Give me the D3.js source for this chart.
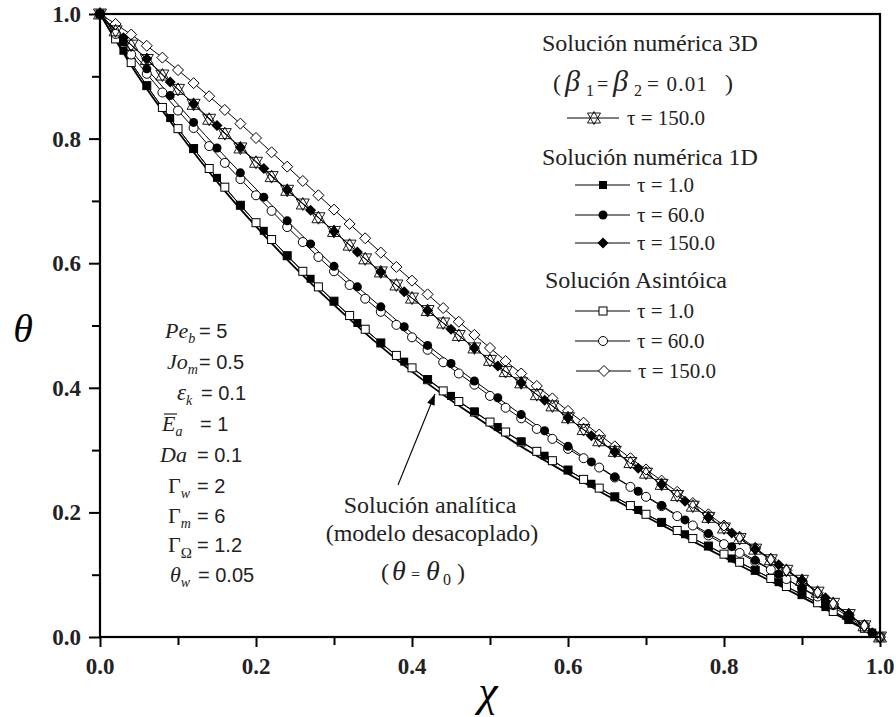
<!DOCTYPE html>
<html><head><meta charset="utf-8">
<script src="https://cdn.jsdelivr.net/npm/d3@7"></script>
<style>body{margin:0;background:#fff} svg{display:block}</style>
</head><body><svg id="c" width="896" height="717"></svg>
<script>
// ---- data ----
const chi02 = [0.00,0.02,0.04,0.06,0.08,0.10,0.12,0.14,0.16,0.18,0.20,0.22,0.24,0.26,0.28,0.30,0.32,0.34,0.36,0.38,0.40,0.42,0.44,0.46,0.48,0.50,0.52,0.54,0.56,0.58,0.60,0.62,0.64,0.66,0.68,0.70,0.72,0.74,0.76,0.78,0.80,0.82,0.84,0.86,0.88,0.90,0.92,0.94,0.96,0.98,1.00];
const chi03 = [0.00,0.03,0.06,0.09,0.12,0.15,0.18,0.21,0.24,0.27,0.30,0.33,0.36,0.39,0.42,0.45,0.48,0.51,0.54,0.57,0.60,0.63,0.66,0.69,0.72,0.75,0.78,0.81,0.84,0.87,0.90,0.93,0.96,0.99];
const chi05 = [0.00,0.05,0.10,0.15,0.20,0.25,0.30,0.35,0.40,0.45,0.50,0.55,0.60,0.65,0.70,0.75,0.80,0.85,0.90,0.95,1.00];

const analytic = [1.000,.898,.811,.731,.659,.593,.533,.477,.426,.380,.338,.298,.262,.227,.193,.160,.128,.096,.064,.032,.000];

const num3D_150 = [1.000,.973,.950,.927,.902,.879,.855,.831,.808,.785,.762,.739,.717,.695,.673,.651,.629,.607,.586,.565,.544,.524,.504,.484,.464,.444,.426,.408,.389,.371,.352,.333,.315,.298,.280,.263,.245,.227,.210,.192,.175,.158,.141,.124,.107,.091,.072,.054,.036,.018,.000];

const num1D_1   = [1.000,.941,.885,.833,.784,.737,.693,.652,.612,.575,.539,.504,.472,.442,.414,.387,.362,.337,.314,.291,.268,.246,.225,.204,.184,.165,.146,.126,.107,.088,.068,.048,.028,.007];
const num1D_60  = [1.000,.955,.912,.869,.826,.785,.745,.706,.668,.631,.595,.562,.530,.498,.468,.439,.411,.384,.357,.331,.306,.281,.257,.234,.211,.188,.166,.145,.123,.101,.078,.056,.032,.007];
const num1D_150 = [1.000,.962,.928,.891,.856,.821,.786,.752,.718,.685,.651,.618,.586,.554,.524,.494,.464,.435,.408,.380,.352,.323,.297,.271,.245,.218,.192,.167,.141,.116,.091,.063,.036,.007];

const asym_1   = [1.000,.960,.922,.885,.850,.816,.784,.752,.722,.693,.665,.638,.612,.587,.562,.539,.516,.494,.472,.452,.432,.413,.395,.378,.361,.345,.329,.313,.298,.283,.268,.253,.239,.225,.211,.197,.184,.171,.158,.146,.133,.120,.107,.094,.081,.068,.055,.041,.028,.014,.000];
const asym_60  = [1.000,.968,.935,.904,.874,.845,.817,.788,.761,.735,.709,.684,.658,.634,.610,.587,.565,.543,.522,.501,.481,.461,.441,.423,.405,.387,.368,.351,.334,.318,.302,.287,.272,.256,.241,.225,.210,.194,.179,.163,.149,.135,.121,.108,.093,.079,.065,.051,.035,.019,.000];
const asym_150 = [1.000,.984,.967,.949,.930,.910,.889,.868,.846,.824,.801,.778,.755,.732,.709,.686,.663,.640,.617,.594,.572,.550,.528,.506,.485,.464,.443,.423,.403,.383,.363,.344,.325,.306,.287,.269,.251,.233,.215,.197,.179,.161,.143,.125,.107,.089,.071,.053,.035,.018,.000];

const xTicks = [0,0.2,0.4,0.6,0.8,1.0];
const yTicks = [0,0.2,0.4,0.6,0.8,1.0];
const minorTicks = [0,0.1,0.2,0.3,0.4,0.5,0.6,0.7,0.8,0.9,1.0];
const legendLabels = ["τ = 150.0","τ = 1.0","τ = 60.0","τ = 150.0","τ = 1.0","τ = 60.0","τ = 150.0"];

// ---- setup ----
const svg = d3.select("#c");
const L = 100, R = 880, T = 14, B = 637;
const x = d3.scaleLinear().domain([0,1]).range([L,R]);
const y = d3.scaleLinear().domain([0,1]).range([B,T]);
const SERIF = "Liberation Serif";
const SANS = "Liberation Sans";

function marker(g, type, cx, cy) {
  if (type === "fsq") g.append("rect").attr("x",cx-4).attr("y",cy-4).attr("width",8).attr("height",8).attr("fill","#000");
  else if (type === "osq") g.append("rect").attr("x",cx-4).attr("y",cy-4).attr("width",8).attr("height",8).attr("fill","#fff").attr("stroke","#000").attr("stroke-width",1);
  else if (type === "fci") g.append("circle").attr("cx",cx).attr("cy",cy).attr("r",4.5).attr("fill","#000");
  else if (type === "oci") g.append("circle").attr("cx",cx).attr("cy",cy).attr("r",4.5).attr("fill","#fff").attr("stroke","#000").attr("stroke-width",1);
  else if (type === "fdi") g.append("path").attr("d",`M${cx},${cy-5.5}L${cx+5.5},${cy}L${cx},${cy+5.5}L${cx-5.5},${cy}Z`).attr("fill","#000");
  else if (type === "odi") g.append("path").attr("d",`M${cx},${cy-5.5}L${cx+5.5},${cy}L${cx},${cy+5.5}L${cx-5.5},${cy}Z`).attr("fill","#fff").attr("stroke","#000").attr("stroke-width",1);
  else if (type === "star") {
    g.append("path").attr("d",`M${cx-6.5},${cy-5}L${cx+6.5},${cy-5}L${cx},${cy+6.5}Z`).attr("fill","none").attr("stroke","#000").attr("stroke-width",0.9);
    g.append("path").attr("d",`M${cx-6.5},${cy+5}L${cx+6.5},${cy+5}L${cx},${cy-6.5}Z`).attr("fill","none").attr("stroke","#000").attr("stroke-width",0.9);
  }
}

const line = d3.line().x(d=>x(d[0])).y(d=>y(d[1])).curve(d3.curveMonotoneX);

const series = [
  {xs: chi02, ys: asym_1,   m: "osq"},
  {xs: chi02, ys: asym_60,  m: "oci"},
  {xs: chi02, ys: asym_150, m: "odi"},
  {xs: chi03, ys: num1D_1,   m: "fsq"},
  {xs: chi03, ys: num1D_60,  m: "fci"},
  {xs: chi03, ys: num1D_150, m: "fdi"},
  {xs: chi02, ys: num3D_150, m: "star"}
];

svg.append("path").datum(chi05.map((c,i)=>[c,analytic[i]]))
  .attr("d", line).attr("fill","none").attr("stroke","#000").attr("stroke-width",1.8);

series.forEach(s => {
  const pts = s.xs.map((c,i)=>[c, s.ys[i]]);
  svg.append("path").datum(pts).attr("d", line).attr("fill","none").attr("stroke","#000").attr("stroke-width",1);
});
series.forEach(s => {
  const g = svg.append("g");
  s.xs.forEach((c,i)=> marker(g, s.m, x(c), y(s.ys[i])));
});

// ---- axes ----
const ax = svg.append("g").attr("transform",`translate(0,${B})`)
  .call(d3.axisBottom(x).tickValues(minorTicks).tickSize(8).tickFormat(""));
ax.select(".domain").remove();
ax.selectAll("line").attr("stroke","#000").attr("stroke-width",2);
const ay = svg.append("g").attr("transform",`translate(${L},0)`)
  .call(d3.axisLeft(y).tickValues(minorTicks).tickSize(8).tickFormat(""));
ay.select(".domain").remove();
ay.selectAll("line").attr("stroke","#000").attr("stroke-width",2);
ay.selectAll(".tick").filter(d=>yTicks.some(t=>Math.abs(t-d)<1e-9)).select("line").attr("x2",-11);
ax.selectAll(".tick").filter(d=>xTicks.some(t=>Math.abs(t-d)<1e-9)).select("line").attr("y2",10);

svg.append("rect").attr("x",L).attr("y",T).attr("width",R-L).attr("height",B-T)
  .attr("fill","none").attr("stroke","#000").attr("stroke-width",2.2);

svg.append("g").selectAll("text").data(xTicks).join("text")
  .attr("x", d=>x(d)).attr("y", 674).attr("text-anchor","middle")
  .style("font-family",SERIF).attr("font-weight","bold").attr("font-size",23).attr("fill","#222")
  .text(d=>d.toFixed(1));
svg.append("g").selectAll("text").data(yTicks).join("text")
  .attr("x", 81).attr("y", d=>y(d)+8).attr("text-anchor","end")
  .style("font-family",SERIF).attr("font-weight","bold").attr("font-size",23).attr("fill","#222")
  .text(d=>d.toFixed(1));

svg.append("text").attr("x",23).attr("y",342).attr("text-anchor","middle")
  .style("font-family",SERIF).attr("font-style","italic").attr("font-size",40).text("θ");
svg.append("text").attr("x",488).attr("y",706).attr("text-anchor","middle")
  .style("font-family",SERIF).attr("font-style","italic").attr("font-size",44).text("χ");

// ---- legend ----
const lg = svg.append("g").style("font-family",SERIF).attr("fill","#222");
function piece(g, s, px, py, fs, it, len) {
  const t = g.append("text").attr("x",px).attr("y",py).attr("font-size",fs).text(s);
  if (it) t.attr("font-style","italic");
  if (len) t.attr("textLength",len).attr("lengthAdjust","spacingAndGlyphs");
  return t;
}
lg.append("text").attr("x",542).attr("y",51).attr("font-size",24).text("Solución numérica 3D");
piece(lg,"(",553,91,24);
piece(lg,"β",565,91,30,true);
piece(lg,"1",586,96,16);
piece(lg,"=",597,91,20);
piece(lg,"β",613,91,30,true);
piece(lg,"2",634,96,16);
piece(lg,"= 0.01",647,91,21).attr("letter-spacing",1.2);
piece(lg,")",725,91,24);

lg.append("text").attr("x",542).attr("y",165).attr("font-size",24).text("Solución numérica 1D");
lg.append("text").attr("x",545).attr("y",288).attr("font-size",24).text("Solución Asintóica");

const legendRows = [
  {y:118, m:"star", x1:567, x2:619, mx:594, tx:627},
  {y:185, m:"fsq", x1:575, x2:630, mx:603, tx:637},
  {y:215, m:"fci", x1:575, x2:630, mx:603, tx:637},
  {y:243, m:"fdi", x1:575, x2:630, mx:603, tx:637},
  {y:311, m:"osq", x1:575, x2:630, mx:603, tx:637},
  {y:341, m:"oci", x1:575, x2:630, mx:603, tx:637},
  {y:371, m:"odi", x1:576, x2:631, mx:604, tx:638}
];
legendRows.forEach((r,i)=>{
  lg.append("line").attr("x1",r.x1).attr("x2",r.x2).attr("y1",r.y).attr("y2",r.y).attr("stroke","#000").attr("stroke-width",1);
  marker(lg, r.m, r.mx, r.y);
  lg.append("text").attr("x",r.tx).attr("y",r.y+7).attr("font-size",21).text(legendLabels[i]);
});

// ---- parameters ----
const params = [
  {y:331, x:165, v:[["Pe","i",22,0],["b","i",14,5]], vx:199, val:"= 5"},
  {y:362, x:167, v:[["Jo","i",22,0],["m","i",14,5]], vx:199, val:"= 0.5"},
  {y:393, x:177, v:[["ε","i",23,0],["k","i",14,5]], vx:201, val:"= 0.1"},
  {y:424, x:162, v:[["E","i",22,0],["a","i",14,5]], vx:200, val:"= 1", bar:true},
  {y:455, x:160, v:[["Da","i",22,0]], vx:197, val:"= 0.1"},
  {y:486, x:168, v:[["Γ","n",22,0],["w","i",14,5]], vx:197, val:"= 2"},
  {y:516, x:168, v:[["Γ","n",22,0],["m","i",14,5]], vx:197, val:"= 6"},
  {y:545, x:168, v:[["Γ","n",22,0],["Ω","n",15,6]], vx:197, val:"= 1.2"},
  {y:575, x:170, v:[["θ","i",22,0],["w","i",14,5]], vx:198, val:"= 0.05"}
];
const pg = svg.append("g").attr("fill","#222");
params.forEach(p=>{
  const t = pg.append("text").attr("x",p.x).attr("y",p.y+7).style("font-family",SERIF);
  let prev = 0;
  p.v.forEach(([s,st,fs,dy])=>{
    t.append("tspan").attr("font-size",fs).attr("font-style",st==="i"?"italic":"normal").attr("dy",dy-prev).text(s);
    prev = dy;
  });
  pg.append("text").attr("x",p.vx).attr("y",p.y+7).style("font-family",SANS).attr("font-size",20).text(p.val);
  if (p.bar) pg.append("line").attr("x1",p.x+2).attr("x2",p.x+15).attr("y1",p.y-10).attr("y2",p.y-10).attr("stroke","#222").attr("stroke-width",1.2);
});

// ---- annotation ----
const an = svg.append("g").style("font-family",SERIF).attr("fill","#222");
an.append("text").attr("x",430).attr("y",513).attr("text-anchor","middle").attr("font-size",24).text("Solución analítica");
an.append("text").attr("x",432).attr("y",541).attr("text-anchor","middle").attr("font-size",24).text("(modelo desacoplado)");
piece(an,"(",381,580,24);
piece(an,"θ",392,580,28,true);
piece(an,"=",411,580,16);
piece(an,"θ",426,580,28,true);
piece(an,"0",443,585,16);
piece(an,")",457,580,24);

const ax0 = 398, ay0 = 485, ax1 = 435, ay1 = 394;
svg.append("line").attr("x1",ax0).attr("y1",ay0).attr("x2",ax1).attr("y2",ay1).attr("stroke","#000").attr("stroke-width",1.1);
const ang = Math.atan2(ay1-ay0, ax1-ax0);
const hl = 11, hw = 4;
const bx = ax1 - hl*Math.cos(ang), by = ay1 - hl*Math.sin(ang);
svg.append("path").attr("d",`M${ax1},${ay1}L${bx - hw*Math.sin(ang)},${by + hw*Math.cos(ang)}L${bx + hw*Math.sin(ang)},${by - hw*Math.cos(ang)}Z`).attr("fill","#000");
</script>
</body></html>
